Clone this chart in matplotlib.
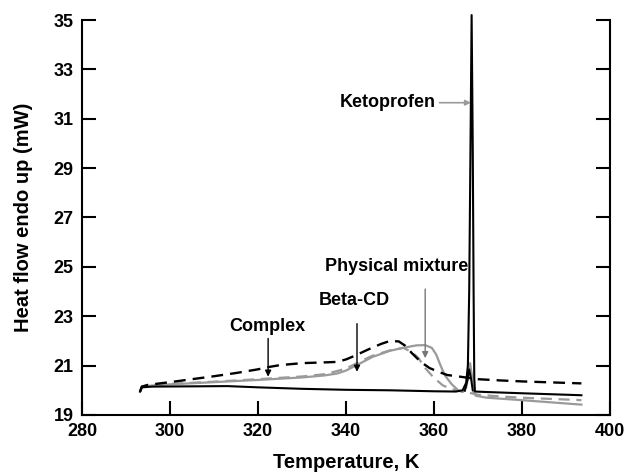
import matplotlib
matplotlib.use("Agg")
import matplotlib.pyplot as plt

plt.rcParams['font.family'] = ['Liberation Sans', 'DejaVu Sans']
plt.rcParams['font.weight'] = 'bold'

# Complex (black dashed)
complex_T = [293.2, 293.6, 295, 300, 305, 310, 315, 320, 322, 325, 330, 335, 338, 340, 342, 345, 348, 350,
             352, 353.5, 355, 357, 359, 361, 363, 366, 370, 375, 380, 385, 393.5]
complex_v = [19.95, 20.15, 20.22, 20.33, 20.45, 20.57, 20.7, 20.85, 20.93, 21.02, 21.1, 21.13, 21.15, 21.25,
             21.4, 21.65, 21.88, 22.0, 21.98, 21.8, 21.5, 21.15, 20.9, 20.75, 20.62, 20.55, 20.45, 20.4,
             20.36, 20.33, 20.28]

# Beta-CD (gray dashed)
betacd_T = [293.2, 293.6, 295, 300, 310, 320, 330, 335, 338, 340, 343, 346, 350, 353, 355, 356.5, 358, 360,
            362, 364, 366, 368, 370, 375, 380, 393.5]
betacd_v = [19.95, 20.15, 20.2, 20.26, 20.35, 20.45, 20.56, 20.65, 20.78, 20.88, 21.15, 21.4, 21.62, 21.72,
            21.55, 21.3, 20.9, 20.5, 20.2, 20.05, 19.97, 19.9, 19.82, 19.75, 19.7, 19.6]

# Physical mixture (gray solid)
pm_T = [293.2, 293.6, 295, 300, 310, 320, 330, 335, 338, 340, 343, 346, 350, 353, 356, 358, 359.5, 360.5,
        361.5, 362.5, 364, 365.5, 366.5, 367.3, 367.8, 368.2, 368.6, 369.0, 369.5, 372, 380, 393.5]
pm_v = [19.95, 20.12, 20.18, 20.24, 20.33, 20.42, 20.52, 20.6, 20.68, 20.8, 21.07, 21.35, 21.6, 21.72, 21.82,
        21.83, 21.72, 21.45, 21.0, 20.6, 20.25, 20.0, 19.93, 20.1, 20.6, 21.1, 20.6, 19.9, 19.78, 19.7, 19.6,
        19.42]

# Ketoprofen (black solid)
keto_T = [293.2, 293.6, 296, 305, 313, 320, 330, 340, 350, 360, 365, 366.5, 367.3, 367.7, 368.0, 368.3,
          368.55, 368.8, 369.0, 369.15, 369.3, 372, 380, 393.5]
keto_v = [19.95, 20.12, 20.15, 20.16, 20.17, 20.12, 20.06, 20.02, 20.0, 19.96, 19.95, 20.0, 20.3, 21.0, 24.0,
          30.0, 35.2, 30.0, 24.0, 20.5, 19.95, 19.93, 19.88, 19.8]

# small black melting bump
bump_T = [367.0, 367.6, 368.0, 368.4, 368.8]
bump_v = [19.98, 20.4, 20.85, 20.5, 20.0]

xticks = [280, 300, 320, 340, 360, 380, 400]
yticks = [19, 21, 23, 25, 27, 29, 31, 33, 35]

fig = plt.figure(figsize=(6.25, 4.74), dpi=100)
ax = fig.add_axes([0.1312, 0.1245, 0.8448, 0.8333])

gray = '#9a9a9a'
ax.plot(pm_T, pm_v, color=gray, lw=1.6, solid_joinstyle='round')
ax.plot(betacd_T, betacd_v, color=gray, lw=1.6, ls=(0, (5, 3)))
ax.plot(complex_T, complex_v, color='black', lw=1.7, ls=(0, (5, 3)))
ax.plot(bump_T, bump_v, color='black', lw=1.4)
ax.plot(keto_T, keto_v, color='black', lw=1.5, clip_on=False)

ax.set_xlim(280, 400)
ax.set_ylim(19, 35)
ax.set_xticks(xticks)
ax.set_yticks(yticks)
ax.spines['top'].set_visible(False)
for s in ['left', 'bottom', 'right']:
    ax.spines[s].set_linewidth(1.5)
ax.tick_params(axis='both', direction='in', length=10, width=1.5, labelsize=13)
ax.tick_params(axis='x', pad=6)
ax.tick_params(axis='y', pad=6, right=True)

ax.set_xlabel('Temperature, K', fontsize=14.5, fontweight='bold', labelpad=9)
ax.set_ylabel('Heat flow endo up (mW)', fontsize=14.5, fontweight='bold', labelpad=15)

fs = 13
ax.annotate('Ketoprofen', xy=(368.4, 31.65), xytext=(360.3, 31.65), fontsize=fs, fontweight='bold',
            ha='right', va='center',
            arrowprops=dict(arrowstyle='-|>', color=gray, lw=1.2, mutation_scale=8, shrinkA=1, shrinkB=0))
ax.text(351.6, 25.0, 'Physical mixture', fontsize=fs, fontweight='bold', ha='center', va='center')
ax.annotate('', xy=(358.0, 21.3), xytext=(358.0, 24.1),
            arrowprops=dict(arrowstyle='-|>', color='#777777', lw=1.0, mutation_scale=9, shrinkA=0, shrinkB=0))
ax.text(342.0, 23.62, 'Beta-CD', fontsize=fs, fontweight='bold', ha='center', va='center')
ax.annotate('', xy=(342.5, 20.75), xytext=(342.5, 22.7),
            arrowprops=dict(arrowstyle='-|>', color='black', lw=1.0, mutation_scale=9, shrinkA=0, shrinkB=0))
ax.text(322.2, 22.6, 'Complex', fontsize=fs, fontweight='bold', ha='center', va='center')
ax.annotate('', xy=(322.3, 20.55), xytext=(322.3, 22.1),
            arrowprops=dict(arrowstyle='-|>', color='black', lw=1.0, mutation_scale=9, shrinkA=0, shrinkB=0))

fig.savefig('out.png', dpi=100)
